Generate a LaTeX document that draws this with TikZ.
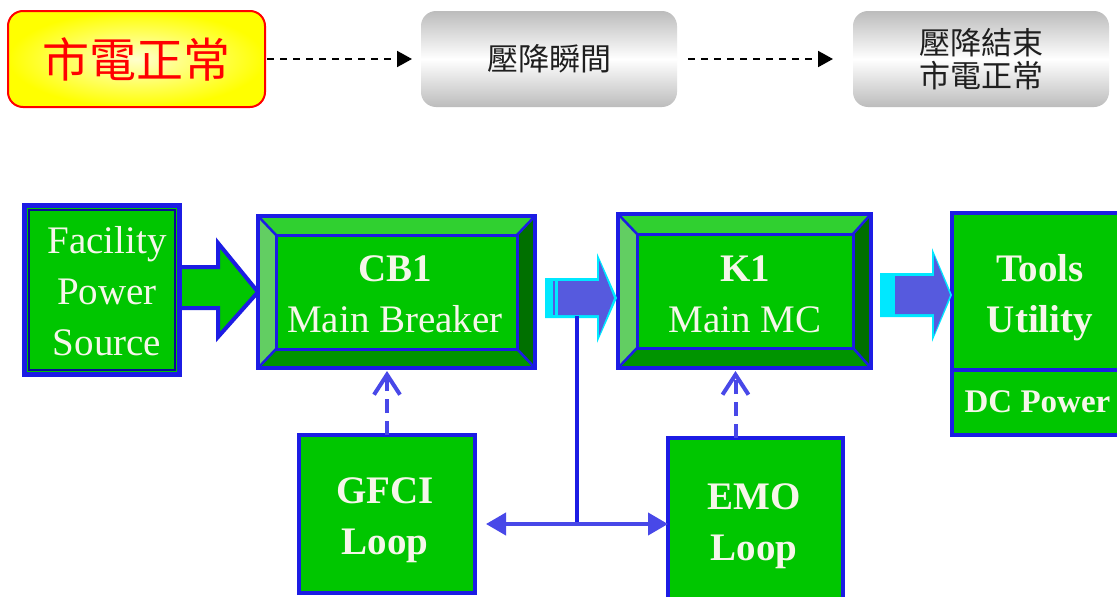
\documentclass[tikz,border=0pt]{standalone}
\usepackage{fontspec}
\setmainfont{Liberation Serif}
\newfontfamily\cjkfont{Noto Sans CJK TC}
\usetikzlibrary{arrows.meta,calc}

% palette
\definecolor{capyellow}{RGB}{255,255,0}
\definecolor{paleyellow}{RGB}{255,255,205}
\definecolor{capred}{RGB}{255,0,0}
\definecolor{stepgray}{RGB}{188,188,188}
\definecolor{boxgreen}{RGB}{0,198,0}
\definecolor{bevtop}{RGB}{48,208,48}
\definecolor{bevleft}{RGB}{98,206,98}
\definecolor{bevright}{RGB}{0,112,0}
\definecolor{bevbottom}{RGB}{0,148,0}
\definecolor{edgeblue}{RGB}{28,28,228}
\definecolor{innerblue}{RGB}{10,10,150}
\definecolor{flowblue}{RGB}{86,90,222}
\definecolor{glow}{RGB}{0,232,255}
\definecolor{busblue}{RGB}{72,72,232}
\definecolor{labelwhite}{RGB}{246,246,234}

\tikzset{
  slot/.style={inner sep=0pt, outer sep=0pt},
  state/.style={slot, rounded corners=15pt, align=center},
  normalstate/.style={state, draw=capred, line width=2pt,
    inner color=paleyellow, outer color=capyellow, text=capred,
    font=\cjkfont\fontsize{47}{52}\selectfont},
  graystate/.style={state, top color=stepgray, bottom color=stepgray,
    middle color=white, text=black!88,
    font=\cjkfont\fontsize{31}{33}\selectfont},
  stepflow/.style={black, line width=2pt, dash pattern=on 7pt off 6pt,
    -{Triangle[length=15pt,width=16pt]}},
  block/.style={slot, fill=boxgreen},
  framed/.style={block, draw=edgeblue, line width=4pt},
  edge/.style={draw=edgeblue},
  caption/.style={inner sep=0pt, align=center, text=labelwhite,
    font=\fontsize{39}{51}\selectfont},
  ctrl/.style={draw=busblue, line width=4pt, dash pattern=on 14pt off 8pt,
    -{Straight Barb[length=20pt,width=26pt]}, shorten >=3pt},
  bus/.style={draw=busblue, line width=4pt,
    -{Triangle[length=20pt,width=22pt]}},
}

% raised panel: node name, then left, top, right, bottom bevel widths
\newcommand{\bevelbox}[5]{%
  \coordinate (#1-o1) at (#1.north west);
  \coordinate (#1-o2) at (#1.north east);
  \coordinate (#1-o3) at (#1.south east);
  \coordinate (#1-o4) at (#1.south west);
  \coordinate (#1-i1) at ($(#1-o1)+(#2,#3)$);
  \coordinate (#1-i2) at ($(#1-o2)+(-#4,#3)$);
  \coordinate (#1-i3) at ($(#1-o3)+(-#4,-#5)$);
  \coordinate (#1-i4) at ($(#1-o4)+(#2,-#5)$);
  \fill[bevtop] (#1-o1) -- (#1-o2) -- (#1-i2) -- (#1-i1) -- cycle;
  \fill[bevright] (#1-o2) -- (#1-o3) -- (#1-i3) -- (#1-i2) -- cycle;
  \fill[bevbottom] (#1-o3) -- (#1-o4) -- (#1-i4) -- (#1-i3) -- cycle;
  \fill[bevleft] (#1-o4) -- (#1-o1) -- (#1-i1) -- (#1-i4) -- cycle;
  \fill[boxgreen] (#1-i1) rectangle (#1-i3);
  \draw[edge, line width=2.5pt] (#1-o1) -- (#1-i1) (#1-o2) -- (#1-i2)
    (#1-o3) -- (#1-i3) (#1-o4) -- (#1-i4);
  \draw[edge, line width=3pt] (#1-i1) rectangle (#1-i3);
  \draw[edge, line width=4pt] (#1-o1) rectangle (#1-o3);
}

\begin{document}
\begin{tikzpicture}[x=1pt,y=-1pt]
\useasboundingbox (0,0) rectangle (1117,597);
\clip (0,0) rectangle (1117,597);
\fill[white] (0,0) rectangle (1117,597);

% ---- supply states ----
\node[normalstate, minimum width=257pt, minimum height=96pt] (normal) at (136.5,59) {市電正常};
\node[graystate, minimum width=256pt, minimum height=96pt] (dip) at (549,59) {壓降瞬間};
\node[graystate, minimum width=256pt, minimum height=96pt] (restore) at (981,59) {壓降結束\\市電正常};

\draw[stepflow, shorten <=2pt, shorten >=9pt] (normal.east) -- (dip.west);
\draw[stepflow, shorten <=11pt, shorten >=20pt] (dip.east) -- (restore.west);

% ---- power path ----
\node[block, minimum width=160pt, minimum height=174pt] (fac) at (102,290) {};
\node[slot, minimum width=277pt, minimum height=152pt] (cb1) at (396.5,292) {};

% feed arrow from the facility source into the breaker
\filldraw[fill=boxgreen, edge, line width=4pt, line join=miter]
  ($(fac.east)+(0,-23)$) -- ++(36,0) -- ++(0,-24) -- (cb1.west)
  -- ($(fac.east)+(36,47)$) -- ++(0,-29) -- ($(fac.east)+(0,18)$);

\draw[edge, line width=5pt] ($(fac.north west)+(2.5,2.5)$) rectangle ($(fac.south east)+(-2.5,-2.5)$);
\draw[innerblue, line width=1.5pt] ($(fac.north west)+(7,7)$) rectangle ($(fac.south east)+(-7,-7)$);
\node[caption] (fac-t) at (107,291.5) {Facility\\Power\\Source};

\bevelbox{cb1}{18}{19}{18}{19}
\node[caption] (cb1-t) at (395,294) {\textbf{CB1}\\Main Breaker};

\node[slot, minimum width=253pt, minimum height=154pt] (k1) at (744.5,291) {};
\bevelbox{k1}{19}{20}{18}{20}
\node[caption] (k1-t) at (745,294.5) {\textbf{K1}\\Main MC};

\node[framed, minimum width=180pt, minimum height=157pt] (tools) at (1042,291.5) {};
\node[framed, minimum width=180pt, minimum height=65pt] (dcp) at (1042,402.5) {};
\node[caption] (tools-t) at (1040,298) {\textbf{Tools}\\\textbf{Utility}};
\node[caption, font=\bfseries\fontsize{33}{40}\selectfont] (dcp-t) at (1037.5,402) {DC Power};

% flow arrows between the stages
\coordinate (f1) at ($(cb1.east)+(10,6)$);
\fill[glow] ($(f1)+(0,-20)$) -- ++(52,0) -- ++(0,-25) -- ++(20,45)
  -- ++(-20,45) -- ++(0,-25) -- ++(-52,0) -- cycle;
\fill[flowblue] ($(f1)+(13,-17)$) -- ++(41,0) -- ++(0,-21) -- ++(15,38)
  -- ++(-15,38) -- ++(0,-21) -- ++(-41,0) -- cycle;
\draw[flowblue, line width=1.5pt] ($(f1)+(9,-17)$) -- ++(0,34);

\coordinate (f2) at ($(k1.east)+(9,4)$);
\fill[glow] ($(f2)+(0,-22)$) -- ++(52,0) -- ++(0,-25) -- ++(20,47)
  -- ++(-20,47) -- ++(0,-25) -- ++(-52,0) -- cycle;
\fill[flowblue] ($(f2)+(15,-19)$) -- ++(39,0) -- ++(0,-21) -- ++(16,40)
  -- ++(-16,40) -- ++(0,-21) -- ++(-39,0) -- cycle;

% ---- interlock loops ----
\node[framed, minimum width=176pt, minimum height=158pt] (gfci) at (387,514) {};
\node[caption] (gfci-t) at (385,520) {\textbf{GFCI}\\\textbf{Loop}};
\node[framed, minimum width=175pt, minimum height=164pt] (emo) at (755.5,520) {};
\node[caption] (emo-t) at (754,526.5) {\textbf{EMO}\\\textbf{Loop}};

\draw[ctrl] (gfci.north) -- (gfci.north |- cb1.south);
\coordinate (emotop) at ($(emo.north)+(-20,0)$);
\draw[ctrl] (emotop) -- (emotop |- k1.south);

\coordinate (split) at ($(f1)+(32,18)$);
\coordinate (tap) at ($(split)+(0,208)$);
\draw[edge, line width=3.5pt] (split) -- (tap);
\draw[bus, shorten >=11pt] (tap) -- (tap -| gfci.east);
\draw[bus] (tap) -- (tap -| emo.west);
\end{tikzpicture}
\end{document}
